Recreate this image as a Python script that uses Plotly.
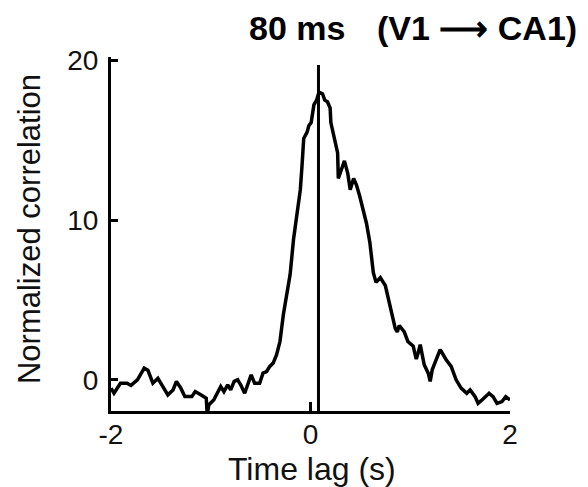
import plotly.graph_objects as go

# ---- data ----
time_lag = [-2.00, -1.97, -1.905, -1.84, -1.80, -1.735, -1.667, -1.63, -1.58, -1.53,
            -1.48, -1.43, -1.378, -1.344, -1.30, -1.26, -1.19, -1.156, -1.10, -1.045,
            -1.035, -1.02, -0.97, -0.90, -0.868, -0.83, -0.80, -0.765, -0.73, -0.70,
            -0.66, -0.63, -0.595, -0.56, -0.51, -0.476, -0.44, -0.408, -0.374, -0.34,
            -0.306, -0.272, -0.238, -0.204, -0.17, -0.136, -0.102, -0.085, -0.068, -0.034,
            -0.017, 0.007, 0.034, 0.061, 0.085, 0.12, 0.143, 0.17, 0.197, 0.204,
            0.238, 0.272, 0.279, 0.30, 0.34, 0.374, 0.398, 0.432, 0.46, 0.493,
            0.527, 0.561, 0.595, 0.63, 0.657, 0.70, 0.75, 0.785, 0.82, 0.85,
            0.87, 0.89, 0.94, 0.976, 1.03, 1.06, 1.08, 1.10, 1.14, 1.18,
            1.20, 1.22, 1.26, 1.30, 1.36, 1.41, 1.46, 1.51, 1.566, 1.60,
            1.65, 1.68, 1.73, 1.79, 1.83, 1.87, 1.92, 1.957, 2.00]
norm_corr = [-0.52, -0.84, -0.21, -0.21, -0.35, 0.0, 0.73, 0.6, -0.21, 0.10,
             -0.42, -0.94, -0.63, -0.10, -0.52, -1.05, -1.05, -0.73, -0.94, -1.15,
             -2.2, -1.57, -1.26, -0.42, -0.73, -0.31, -0.63, -0.10, 0.0, -0.31,
             -0.84, -0.31, 0.31, -0.21, -0.21, 0.42, 0.52, 0.84, 1.05, 1.57,
             2.41, 4.09, 5.35, 6.6, 8.8, 10.5, 11.9, 13.4, 15.1, 15.5,
             15.9, 16.1, 17.2, 17.5, 18.0, 17.9, 17.5, 17.4, 17.0, 16.1,
             15.1, 14.2, 12.6, 13.0, 13.7, 12.9, 11.9, 12.6, 12.2, 11.5,
             10.7, 9.8, 8.6, 6.7, 6.1, 6.4, 5.9, 4.9, 4.0, 3.2,
             3.0, 3.4, 3.0, 2.4, 2.1, 1.3, 1.7, 2.2, 0.94, 0.42,
             -0.10, 0.63, 1.26, 1.89, 1.26, 0.84, 0.0, -0.52, -0.84, -0.63,
             -1.05, -1.47, -1.2, -0.84, -1.05, -1.47, -1.36, -1.05, -1.26]
peak_lag = 0.08
peak_line_y = [-1.95, 19.7]
x_ticks = [-2, 0, 2]
y_ticks = [0, 10, 20]
x_range = [-2, 2]
y_range = [-1.95, 20.2]

FONT = "Liberation Sans, Arial, sans-serif"
TXT = "#111111"

fig = go.Figure()
fig.add_trace(go.Scatter(x=time_lag, y=norm_corr, mode="lines",
                         line=dict(color="black", width=3.5), showlegend=False,
                         hoverinfo="skip"))
fig.add_trace(go.Scatter(x=[peak_lag, peak_lag], y=peak_line_y, mode="lines",
                         line=dict(color="black", width=3), showlegend=False,
                         hoverinfo="skip"))

fig.update_layout(
    width=588, height=487, autosize=False,
    margin=dict(l=111, r=78, t=57, b=76),
    paper_bgcolor="white", plot_bgcolor="white",
    font=dict(family=FONT, color=TXT),
    xaxis=dict(range=x_range, tickvals=x_ticks, ticktext=[str(v) for v in x_ticks],
               showgrid=False, zeroline=False, showline=True, linecolor="black",
               linewidth=3, ticks="inside", ticklen=9, tickwidth=3, tickcolor="black",
               ticklabelstandoff=-4,
               tickfont=dict(size=28, family=FONT, color=TXT)),
    yaxis=dict(range=y_range, tickvals=y_ticks, ticktext=[str(v) for v in y_ticks],
               showgrid=False, zeroline=False, showline=True, linecolor="black",
               linewidth=3, ticks="inside", ticklen=7, tickwidth=3, tickcolor="black",
               ticklabelstandoff=4,
               tickfont=dict(size=28, family=FONT, color=TXT)),
    annotations=[
        dict(text="Time lag (s)", xref="paper", yref="paper", x=0.504, y=-0.165,
             xanchor="center", yanchor="middle", showarrow=False,
             font=dict(size=32, family=FONT, color=TXT)),
        dict(text="Normalized correlation", xref="paper", yref="paper", x=-0.2055, y=0.514,
             xanchor="center", yanchor="middle", textangle=-90, showarrow=False,
             font=dict(size=31, family=FONT, color=TXT)),
        dict(text="<b>80 ms</b>", xref="paper", yref="paper", x=0.466, y=1.083,
             xanchor="center", yanchor="middle", showarrow=False,
             font=dict(size=34, family=FONT, color="black")),
        dict(text="<b>(V1 ⟶ CA1)</b>", xref="paper", yref="paper", x=0.917, y=1.083,
             xanchor="center", yanchor="middle", showarrow=False,
             font=dict(size=34, family=FONT, color="black")),
    ],
)

fig.write_html("out.html")
